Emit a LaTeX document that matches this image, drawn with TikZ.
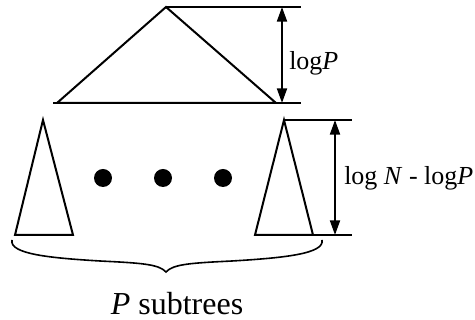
\documentclass[tikz,border=0pt]{standalone}
\usepackage{fontspec}
\setmainfont{Liberation Serif}
\usetikzlibrary{arrows.meta,positioning}

\begin{document}
\begin{tikzpicture}[
    x=0.75pt, y=0.75pt,
    tree/.style={line width=1.5pt, line join=miter},
    rule/.style={line width=1.5pt},
    dim/.style={{Triangle[length=11pt,width=7.5pt]}-{Triangle[length=11pt,width=7.5pt]}, line width=1.5pt},
    lbl/.style={font=\fontsize{19.5}{22}\selectfont, inner sep=0pt, anchor=west},
    dot/.style={circle, fill=black, inner sep=0pt, minimum size=13.5pt}
]
\useasboundingbox (0,0) rectangle (475,320);

% top tree
\coordinate (apex) at (166,313);
\coordinate (bl) at (57,217);
\coordinate (br) at (276,217);
\draw[tree] (apex) -- (bl) -- (br) -- cycle;
\coordinate (toptick) at (301,313);
\coordinate (baseL) at (53,217);
\coordinate (baseR) at (301,217);
\draw[rule] (apex) -- (toptick);
\draw[rule] (baseL) -- (baseR);
\coordinate (a1) at (282,313);
\coordinate (a2) at (282,217);
\draw[dim] (a1) -- (a2);
\node[lbl] (logp) at (289,257) {log\textit{P}};

% subtrees
\coordinate (lt) at (43,200);
\coordinate (ll) at (15,85);
\coordinate (lr) at (73,85);
\draw[tree] (lt) -- (ll) -- (lr) -- cycle;
\coordinate (rt) at (284,200);
\coordinate (rl) at (255,85);
\coordinate (rr) at (313,85);
\draw[tree] (rt) -- (rl) -- (rr) -- cycle;
\coordinate (rtick) at (352,200);
\coordinate (rbase) at (352,85);
\draw[rule] (rt) -- (rtick);
\draw[rule] (rr) -- (rbase);
\coordinate (b1) at (335,200);
\coordinate (b2) at (335,85);
\draw[dim] (b1) -- (b2);
\node[lbl] (lognp) at (344,142) {log \textit{N} - log\textit{P}};

% dots
\node[dot] (d1) at (103,142) {};
\node[dot] (d2) at (163,142) {};
\node[dot] (d3) at (223,142) {};

% brace
\coordinate (brL) at (12,80);
\coordinate (brTip) at (166,48);
\coordinate (brR) at (322,80);
\draw[line width=1.2pt]
  (brL) .. controls (9,66) and (50,62) .. (100,59)
        .. controls (140,57) and (159,56) .. (brTip)
        .. controls (173,56) and (192,57) .. (232,59)
        .. controls (282,62) and (325,66) .. (brR);
\node[font=\fontsize{24}{28}\selectfont, inner sep=0pt] (count) at (177,16) {\textit{P} subtrees};
\end{tikzpicture}
\end{document}
